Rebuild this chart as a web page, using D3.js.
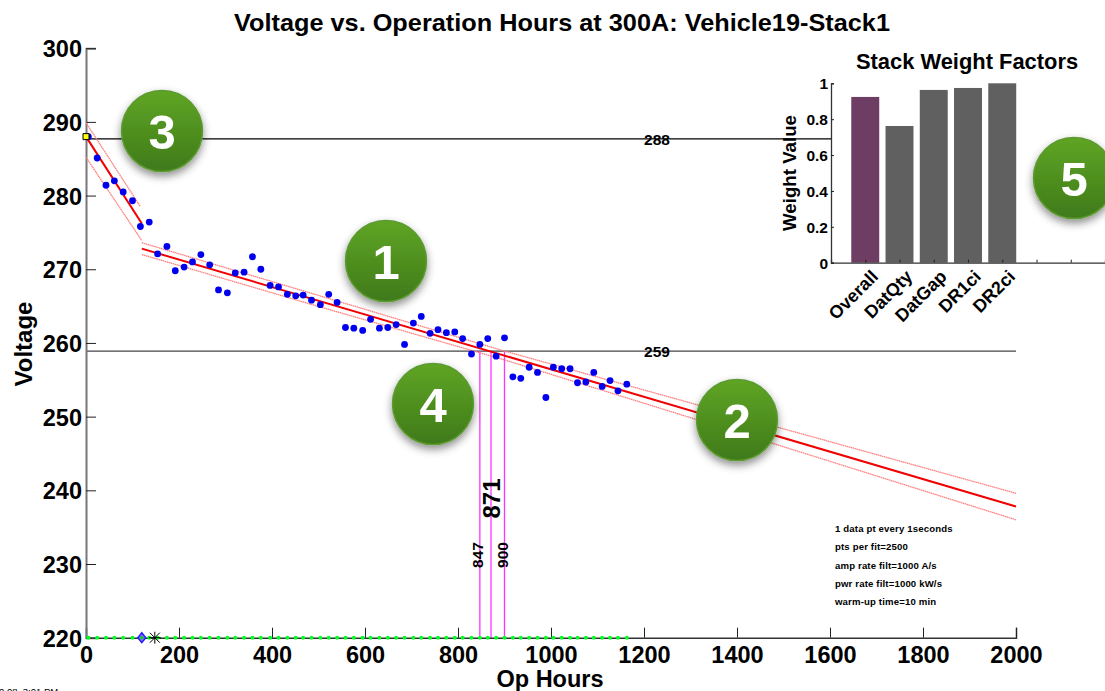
<!DOCTYPE html>
<html><head><meta charset="utf-8">
<script src="https://cdn.jsdelivr.net/npm/d3@7"></script>
<style>
html,body{margin:0;padding:0;background:#fff;overflow:hidden}
svg{display:block}
text{font-family:"Liberation Sans",Arial,sans-serif;font-weight:bold;fill:#000}
</style></head><body>
<svg id="c" width="1105" height="691"></svg>
<script>
const hours=[5,24,43,61,80,100,117,136,154,174,192,211,229,247,266,285,304,321,340,358,376,396,414,433,451,467,485,504,522,540,558,576,595,612,631,649,667,685,704,721,740,757,775,793,810,829,847,864,882,900,918,935,953,971,989,1005,1023,1041,1057,1075,1092,1110,1127,1144,1163];
const volts=[288.0,285.1,281.4,282.0,280.5,279.3,275.8,276.4,272.1,273.1,269.8,270.3,271.0,272.0,270.6,267.2,266.8,269.5,269.6,271.7,270.0,267.8,267.6,266.6,266.4,266.5,265.8,265.2,266.6,265.5,262.1,262.0,261.7,263.2,262.0,262.1,262.5,259.8,262.7,263.6,261.3,261.8,261.4,261.5,260.6,258.5,259.8,260.6,258.2,260.7,255.4,255.2,256.7,256.0,252.6,256.7,256.5,256.5,254.6,254.7,256.0,254.1,254.9,253.5,254.4];
const fit1Hours=[0,120], fit1Volts=[288,276.2];
const fit1UpperHours=[0,117], fit1UpperVolts=[289.9,278.5];
const fit1LowerHours=[0,120], fit1LowerVolts=[285.2,273.9];
const fit2Hours=[120,2000], fit2Volts=[272.8,237.8];
const bandHours=[120,500,900,1400,2000];
const fit2Upper=[273.6,266.45,258.9,250.1,239.6];
const fit2Lower=[272.0,264.95,257.7,247.9,236.0];
const refVolts=[287.7,258.9], refLabels=["288","259"];
const crossHours=[847,871,900], crossLabels=["847","871","900"];
const xTicks=[0,200,400,600,800,1000,1200,1400,1600,1800,2000];
const yTicks=[220,230,240,250,260,270,280,290,300];
const weightNames=["Overall","DatQty","DatGap","DR1ci","DR2ci"];
const weightValues=[0.924,0.762,0.963,0.974,1.0];
const weightTicks=[0,0.2,0.4,0.6,0.8,1];
const notes=["1 data pt every 1seconds","pts per fit=2500","amp rate filt=1000 A/s","pwr rate filt=1000 kW/s","warm-up time=10 min"];
const badgeLabels=["1","2","3","4","5"];
const diamondHour=120, starHour=148, floorVolt=220;

const svg=d3.select("#c");
const x=d3.scaleLinear().domain([0,2000]).range([86,1016]);
const y=d3.scaleLinear().domain([220,300]).range([637.7,48.2]);
const defs=svg.append("defs");
const g=defs.append("linearGradient").attr("id","bg").attr("x1",0).attr("y1",0).attr("x2",0).attr("y2",1);
g.append("stop").attr("offset","0%").attr("stop-color","#5fa524");
g.append("stop").attr("offset","100%").attr("stop-color","#3f7a1a");
const f=defs.append("filter").attr("id","sh").attr("x","-30%").attr("y","-30%").attr("width","160%").attr("height","170%");
f.append("feDropShadow").attr("dx",0).attr("dy",4).attr("stdDeviation",4).attr("flood-color","#000").attr("flood-opacity",0.45);

const line=d3.line().x(d=>x(d[0])).y(d=>y(d[1]));
const zip=(a,b)=>a.map((v,i)=>[v,b[i]]);

// reference lines
svg.selectAll(".ref").data(refVolts).join("line").attr("x1",x(0)).attr("x2",x(2000))
 .attr("y1",d=>y(d)).attr("y2",d=>y(d)).attr("stroke",(d,i)=>i?"#444":"#000").attr("stroke-width",(d,i)=>i?1.3:1.2);
svg.selectAll(".refl").data(refVolts).join("text").attr("x",657).attr("y",d=>y(d)+6)
 .attr("text-anchor","middle").attr("font-size",15.5).text((d,i)=>refLabels[i]);

// vertical markers
svg.selectAll(".v").data(crossHours).join("line").attr("x1",d=>x(d)).attr("x2",d=>x(d))
 .attr("y1",y(refVolts[1])).attr("y2",y(floorVolt)).attr("stroke","#ff33ff").attr("stroke-width",1.3);

// axes
const ax=svg.append("g").attr("transform",`translate(0,${y(220)})`)
 .call(d3.axisBottom(x).tickValues(xTicks).tickSize(-10).tickPadding(0).tickFormat(d3.format("d")));
ax.select(".domain").attr("stroke","#333").attr("stroke-width",1.5);
ax.selectAll(".tick line").attr("stroke","#222");
ax.selectAll("text").attr("font-size",23.5).attr("y",9).attr("dy","0.71em").attr("fill","#000");
const ay=svg.append("g").attr("transform",`translate(${x(0)},0)`)
 .call(d3.axisLeft(y).tickValues(yTicks).tickSize(-10).tickPadding(0).tickFormat(d3.format("d")));
ay.select(".domain").attr("stroke","#777").attr("stroke-width",2);
ay.selectAll(".tick line").attr("stroke","#222");
ay.selectAll("text").attr("font-size",23.5).attr("x",-4).attr("dy","0.36em").attr("fill","#000");

// floor markers
svg.selectAll(".fl").data(hours).join("circle").attr("cx",d=>x(d)).attr("cy",y(floorVolt)).attr("r",2).attr("fill","#00ff22");

// fit lines
[[fit1UpperHours,fit1UpperVolts],[fit1LowerHours,fit1LowerVolts],[bandHours,fit2Upper],[bandHours,fit2Lower]].forEach(p=>{
 svg.append("path").attr("d",line(zip(p[0],p[1]))).attr("fill","none").attr("stroke","#ff8080").attr("stroke-width",1.3).attr("stroke-dasharray","1.5 0.5");
});
[[fit1Hours,fit1Volts],[fit2Hours,fit2Volts]].forEach(p=>{
 svg.append("path").attr("d",line(zip(p[0],p[1]))).attr("fill","none").attr("stroke","#f00000").attr("stroke-width",2);
});

// points
svg.selectAll(".pt").data(hours).join("circle").attr("cx",d=>x(d)).attr("cy",(d,i)=>y(volts[i])).attr("r",3.4).attr("fill","#0000ee");

// yellow start marker, diamond and star
svg.append("path").attr("d",d3.symbol(d3.symbolSquare,36)()).attr("transform",`translate(${x(0)},${y(volts[0])})`)
 .attr("fill","#ffff00").attr("stroke","#000").attr("stroke-width",1);
svg.append("path").attr("d","M0,-5L4,0L0,5L-4,0Z").attr("transform",`translate(${x(diamondHour)},${y(floorVolt)})`)
 .attr("fill","#9966ff").attr("stroke","#1a1aff").attr("stroke-width",1.4);
svg.append("circle").attr("cx",x(diamondHour)).attr("cy",y(floorVolt)).attr("r",1.8).attr("fill","#00cc22");
svg.append("path").attr("d","M-6,0H6M0,-6V6M-5,-5L5,5M-5,5L5,-5").attr("transform",`translate(${x(starHour)},${y(floorVolt)})`)
 .attr("fill","none").attr("stroke","#000").attr("stroke-width",1);

// vertical labels
const vtext=(h,dx,cy,size,t)=>svg.append("text").attr("transform",`translate(${x(h)+dx},${cy}) rotate(-90)`)
 .attr("text-anchor","middle").attr("font-size",size).text(t);
vtext(crossHours[0],3.5,555,15.5,crossLabels[0]);
vtext(crossHours[1],8.5,498.5,24,crossLabels[1]);
vtext(crossHours[2],3.5,555,15.5,crossLabels[2]);

// titles
svg.append("text").attr("x",562).attr("y",31).attr("text-anchor","middle").attr("font-size",23.4).attr("textLength",656).attr("lengthAdjust","spacingAndGlyphs").text("Voltage vs. Operation Hours at 300A: Vehicle19-Stack1");
svg.append("text").attr("x",550).attr("y",687).attr("text-anchor","middle").attr("font-size",23.5).text("Op Hours");
svg.append("text").attr("transform","translate(32,344) rotate(-90)").attr("text-anchor","middle").attr("font-size",24).text("Voltage");

// notes
const noteY=[532,550,569,587,605];
svg.selectAll(".n").data(notes).join("text").attr("x",835).attr("y",(d,i)=>noteY[i]).attr("font-size",9.6).attr("letter-spacing",0.15).text(d=>d);

// date stamp (cut off by the window)
svg.append("text").attr("x",-1).attr("y",695).attr("font-size",9.5).style("font-weight","normal").text("0.08, 3:01 PM");

// inset
const ix=d3.scaleLinear().domain([0,8]).range([831,1105]);
const iy=d3.scaleLinear().domain([0,1]).range([262.7,83.3]);
svg.append("rect").attr("x",ix(0)).attr("y",iy(1)).attr("width",ix(8)-ix(0)).attr("height",iy(0)-iy(1)).attr("fill","#fff");
const barW=ix(1)-ix(0)-6.3;
svg.selectAll(".b").data(weightValues).join("rect").attr("x",(d,i)=>ix(i+1)-barW/2).attr("width",barW)
 .attr("y",d=>iy(d)).attr("height",d=>iy(0)-iy(d)).attr("fill",(d,i)=>i?"#606060":"#6d3d63");
const iax=svg.append("g").attr("transform",`translate(0,${iy(0)})`)
 .call(d3.axisBottom(ix).tickValues([1,2,3,4,5,6,7]).tickSize(-3).tickFormat(""));
iax.select(".domain").attr("stroke","#333").attr("stroke-width",1.3);
iax.selectAll(".tick line").attr("stroke","#222");
const iay=svg.append("g").attr("transform",`translate(${ix(0)},0)`)
 .call(d3.axisLeft(iy).tickValues(weightTicks).tickSize(-3).tickPadding(0).tickFormat(d3.format("~g")));
iay.select(".domain").attr("stroke","#333").attr("stroke-width",1.3);
iay.selectAll(".tick line").attr("stroke","#222");
iay.selectAll("text").attr("font-size",15.5).attr("x",-3).attr("dy","0.36em").attr("fill","#000");
svg.selectAll(".wn").data(weightNames).join("text").attr("text-anchor","end").attr("font-size",18)
 .attr("transform",(d,i)=>`translate(${ix(i+1)+14},${iy(0)+15}) rotate(-45)`).text(d=>d);
svg.append("text").attr("x",967).attr("y",69).attr("text-anchor","middle").attr("font-size",21.9).text("Stack Weight Factors");
svg.append("text").attr("transform","translate(796,173) rotate(-90)").attr("text-anchor","middle").attr("font-size",18.7).text("Weight Value");

// badges
const badgeX=[386,737,162,433,1074], badgeY=[261,420,131,404,178];
const bg=svg.selectAll(".bd").data(badgeLabels).join("g").attr("transform",(d,i)=>`translate(${badgeX[i]},${badgeY[i]})`);
bg.append("circle").attr("r",40.5).attr("fill","url(#bg)").attr("stroke","#5c9a30").attr("stroke-width",1.5).attr("filter","url(#sh)");
bg.append("text").attr("text-anchor","middle").attr("y",17.5).attr("font-size",49).style("fill","#fff").text(d=>d);
</script>
</body></html>
